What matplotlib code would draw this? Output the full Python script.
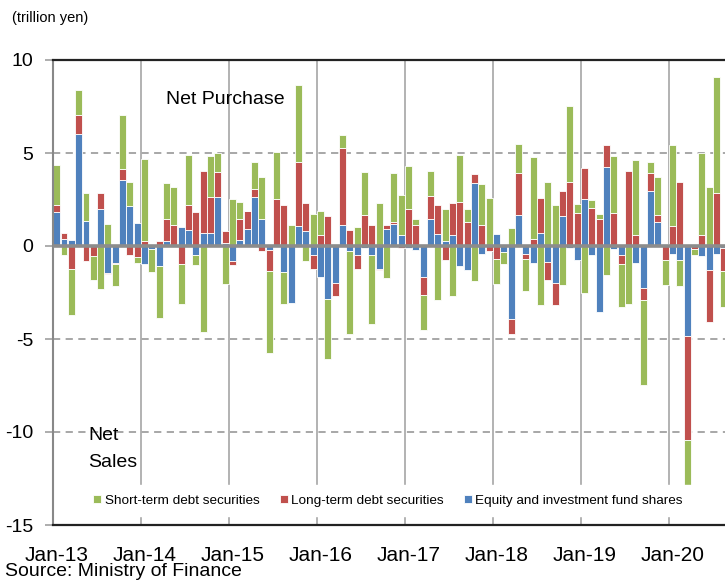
import matplotlib

matplotlib.use("Agg")
import matplotlib.pyplot as plt
from matplotlib import font_manager
import numpy as np


# monthly net purchases, trillion yen, Jan-13 .. Aug-20
short_term = [
    2.19, -0.47, -2.47, 1.34, 1.52, -1.29, -2.29, 1.16, -1.18, 2.94, 1.29, -0.30,
    4.41, -1.22, -2.78, 1.92, 2.06, -2.15, 2.69, -0.50, -4.62, 2.20, 1.04, -2.03,
    2.51, 0.93, 0.00, 1.43, 2.22, -4.39, 2.54, -1.70, 1.11, 4.16, -0.82, 1.74,
    1.29, -3.19, 0.10, 0.68, -4.43, 1.00, 2.33, -3.67, 2.33, -1.72, 2.65, 2.11,
    2.29, 0.36, -1.83, 1.34, -2.89, 1.72, -2.69, 2.51, 0.68, -1.90, 2.22, 2.58,
    -1.33, -0.69, 0.95, 1.52, -1.70, 4.39, -3.15, 3.44, 2.19, -2.11, 4.09, 0.50,
    -2.51, 0.43, 0.27, -1.54, 3.05, -2.29, -3.10, 4.07, -4.57, 0.57, 2.06, -1.32,
    4.37, -1.39, -2.50, -0.32, 4.43, 3.17, 6.20, -1.95,
]
long_term = [
    0.36, 0.32, -1.25, 0.99, -0.82, -0.56, 0.90, -0.09, -0.07, 0.59, -0.47, -0.59,
    0.25, 0.00, 0.25, 1.18, 1.11, -0.95, 1.34, 1.83, 3.32, 1.95, 1.33, 0.61,
    -0.18, 1.16, 0.93, 0.43, -0.25, -1.13, 2.54, 2.19, 0.00, 3.41, 1.49, -0.75,
    0.57, 1.61, -0.72, 4.12, 0.88, -0.75, 1.65, 1.11, -0.05, 0.25, 0.09, -0.10,
    2.00, 1.11, -0.99, 1.22, 1.52, -0.73, 1.70, 2.37, 1.29, 0.48, 1.11, -0.29,
    -0.72, 0.00, -0.81, 2.29, -0.27, 0.39, 1.86, -0.93, -1.20, 1.36, 3.44, 1.76,
    1.65, 2.04, 1.47, 1.20, 1.79, -0.52, 4.01, 0.57, -0.68, 1.00, 0.36, -0.75,
    1.08, 3.44, -5.56, -0.16, 0.57, -2.83, 2.87, -1.25,
]
equity = [
    1.83, 0.39, 0.30, 6.04, 1.34, 0.00, 1.97, -1.43, -0.90, 3.53, 2.15, 1.25,
    -0.99, -0.18, -1.08, 0.29, 0.00, 1.02, 0.84, -0.50, 0.72, 0.68, 2.65, 0.18,
    -0.82, 0.30, 0.93, 2.65, 1.47, -0.23, 0.00, -1.40, -3.05, 1.08, 0.82, -0.47,
    -1.67, -2.87, -1.97, 1.15, -0.29, -0.47, -0.10, -0.50, -1.25, 0.90, 1.20, 0.61,
    -0.10, -0.23, -1.67, 1.47, 0.66, 0.25, 0.61, -1.08, -1.31, 3.41, -0.45, 0.00,
    0.66, -0.30, -3.91, 1.65, -0.45, -0.91, 0.72, -0.88, -1.97, 1.59, -0.10, -0.77,
    2.54, -0.47, -3.55, 4.25, -0.18, -0.47, 0.00, -0.91, -2.24, 2.94, 1.29, 0.09,
    -0.43, -0.74, -4.86, 0.05, -0.52, -1.27, -0.43, -0.10,
]

tick_labels = ["Jan-13", "Jan-14", "Jan-15", "Jan-16", "Jan-17", "Jan-18", "Jan-19", "Jan-20"]
y_ticks = [10, 5, 0, -5, -10, -15]
y_tick_labels = ["10", "5", "0", "-5", "-10", "-15"]

series = [
    ("Equity and investment fund shares", equity, "#4F81BD"),
    ("Long-term debt securities", long_term, "#C0504D"),
    ("Short-term debt securities", short_term, "#9BBB59"),
]

installed = {f.name for f in font_manager.fontManager.ttflist}
plt.rcParams["font.family"] = ["Liberation Sans", "DejaVu Sans"]
narrow = "Liberation Sans Narrow" if "Liberation Sans Narrow" in installed else "Liberation Sans"

fig = plt.figure(figsize=(7.25, 5.82), dpi=100)
ax = fig.add_axes([53 / 725, 57 / 582, 674.4 / 725, 465 / 582])

x = np.arange(len(equity))
pos_base = np.zeros(len(x))
neg_base = np.zeros(len(x))
handles = {}
for name, values, color in series:
    v = np.array(values)
    bottom = np.where(v >= 0, pos_base, neg_base)
    bars = ax.bar(x, v, bottom=bottom, width=0.95, color=color,
                  edgecolor="white", linewidth=0.6, zorder=2)
    handles[name] = bars
    pos_base += np.clip(v, 0, None)
    neg_base += np.clip(v, None, 0)

ax.set_xlim(-0.5, 91.5)
ax.set_ylim(-15, 10)

# grid
for yv in (5, -5, -10):
    ax.axhline(yv, color="#A0A0A0", lw=1.3, ls=(0, (4, 3)), zorder=1)
for k in range(1, 8):
    ax.axvline(12 * k - 0.5, color="#A6A6A6", lw=1.2, zorder=1)
ax.axhline(0, color="#8C8C8C", lw=2.6, zorder=3)

for side in ("top", "bottom"):
    ax.spines[side].set_color("#222222")
    ax.spines[side].set_linewidth(1.6)
ax.spines["left"].set_color("#888888")
ax.spines["left"].set_linewidth(1.5)
ax.spines["right"].set_visible(False)

ax.set_yticks(y_ticks)
ax.set_yticklabels(y_tick_labels)
ax.tick_params(axis="y", length=6, color="#A0A0A0", width=1.2, pad=8, labelsize=14)
ax.set_xticks(np.arange(0, 92, 12))
ax.set_xticklabels(tick_labels, family=narrow)
ax.tick_params(axis="x", length=0, pad=15, labelsize=15)

ax.text(23.0, 7.9, "Net Purchase", ha="center", va="center", fontsize=14, zorder=4)
ax.text(4.3, -10.2, "Net", ha="left", va="center", fontsize=14, zorder=4)
ax.text(4.3, -11.65, "Sales", ha="left", va="center", fontsize=14, zorder=4)

order = ["Short-term debt securities", "Long-term debt securities", "Equity and investment fund shares"]
leg = ax.legend([handles[n] for n in order], order, loc="center", bbox_to_anchor=(0.497, 0.052),
                ncol=3, fontsize=9.7, handlelength=0.6, handleheight=0.6, handletextpad=0.25,
                columnspacing=1.5, borderpad=0.7, frameon=True, fancybox=False, framealpha=1)
leg.get_frame().set_facecolor("white")
leg.get_frame().set_edgecolor("white")
leg.set_zorder(5)

fig.text(12 / 725, 1 - 18 / 582, "(trillion yen)", fontsize=10.5, va="center")
fig.text(5 / 725, 1 - 572 / 582, "Source: Ministry of Finance", fontsize=14, va="center")

fig.savefig("out.png", dpi=100)
plt.close(fig)
